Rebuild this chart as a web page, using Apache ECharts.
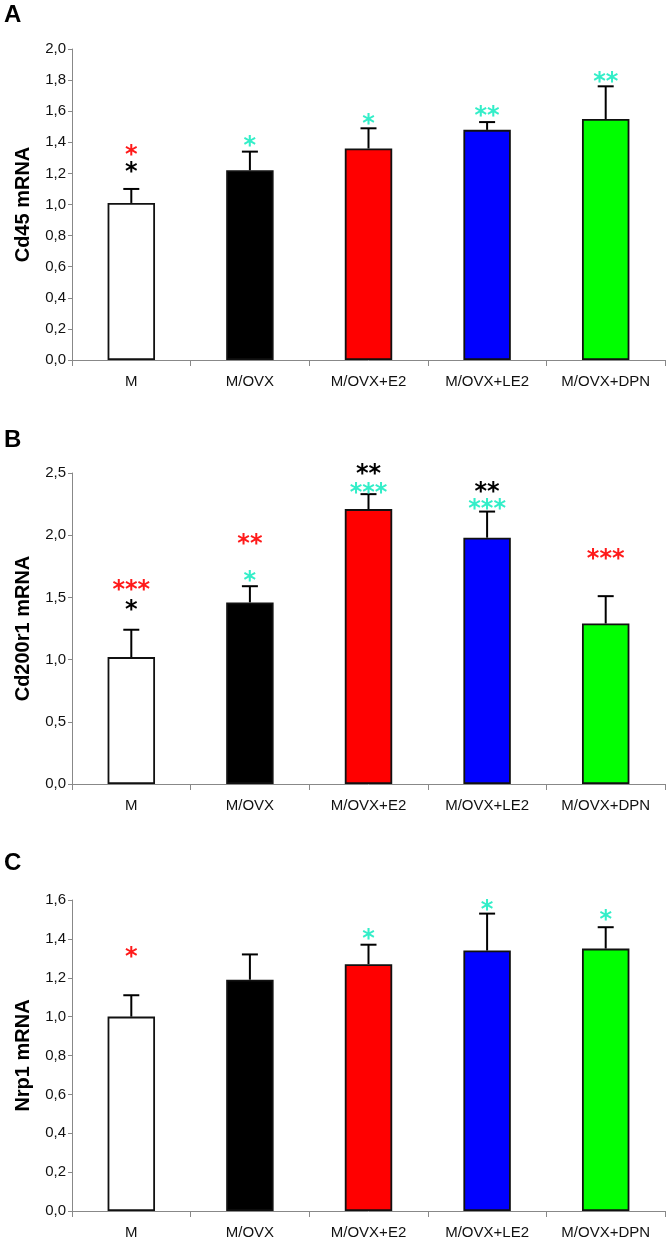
<!DOCTYPE html>
<html>
<head>
<meta charset="utf-8">
<script src="https://cdn.jsdelivr.net/npm/echarts@6/dist/echarts.min.js"></script>
<style>html,body{margin:0;padding:0;background:#fff;}#c{width:672px;height:1244px;}</style>
</head>
<body>
<div id="c"></div>
<script>
const categories = ['M', 'M/OVX', 'M/OVX+E2', 'M/OVX+LE2', 'M/OVX+DPN'];
const barColors = ['#ffffff', '#000000', '#ff0000', '#0000ff', '#00ff00'];

const cd45Mean = [1.01, 1.22, 1.36, 1.48, 1.55];
const cd45Err  = [0.09, 0.12, 0.13, 0.05, 0.21];
const cd200Mean = [1.02, 1.46, 2.21, 1.98, 1.29];
const cd200Err  = [0.22, 0.13, 0.12, 0.21, 0.22];
const nrp1Mean = [1.00, 1.19, 1.27, 1.34, 1.35];
const nrp1Err  = [0.11, 0.13, 0.10, 0.19, 0.11];

// significance marks: [category index, y value, text, colour key]
const starsA = [[0, 1.36, '*', 'red'], [0, 1.25, '*', 'black'], [1, 1.415, '*', 'cyan'], [2, 1.56, '*', 'cyan'], [3, 1.61, '**', 'cyan'], [4, 1.83, '**', 'cyan']];
const starsB = [[0, 1.61, '***', 'red'], [0, 1.45, '*', 'black'], [1, 1.98, '**', 'red'], [1, 1.68, '*', 'cyan'], [2, 2.54, '**', 'black'], [2, 2.39, '***', 'cyan'], [3, 2.40, '**', 'black'], [3, 2.26, '***', 'cyan'], [4, 1.86, '***', 'red']];
const starsC = [[0, 1.34, '*', 'red'], [2, 1.43, '*', 'cyan'], [3, 1.58, '*', 'cyan'], [4, 1.53, '*', 'cyan']];

const yTitles = ['Cd45 mRNA', 'Cd200r1 mRNA', 'Nrp1 mRNA'];
const yMax = [2.0, 2.5, 1.6];
const yInterval = [0.2, 0.5, 0.2];
const panelLetters = ['A', 'B', 'C'];

const starColor = {red: '#ff1a1a', black: '#000000', cyan: '#33eec8'};
const font = '"Liberation Sans", Arial, sans-serif';

const panels = [
  {mean: cd45Mean, err: cd45Err, stars: starsA},
  {mean: cd200Mean, err: cd200Err, stars: starsB},
  {mean: nrp1Mean, err: nrp1Err, stars: starsC}
];
const gridTops = [49, 473, 900];
const letterTops = [3, 428, 851];
const gridH = 311;

const grid = [], xAxis = [], yAxis = [], series = [], graphic = [];
panels.forEach((p, k) => {
  grid.push({left: 72, width: 593, top: gridTops[k], height: gridH});
  xAxis.push({
    type: 'category', gridIndex: k, data: categories,
    axisLine: {lineStyle: {color: '#888', width: 1}},
    axisTick: {show: true, length: 6, lineStyle: {color: '#888'}},
    axisLabel: {color: '#111', fontFamily: font, fontSize: 15, margin: 14}
  });
  yAxis.push({
    type: 'value', gridIndex: k, min: 0, max: yMax[k], interval: yInterval[k],
    name: yTitles[k], nameLocation: 'middle', nameGap: 39, nameRotate: 90,
    nameTextStyle: {fontFamily: font, fontWeight: 'bold', fontSize: 20, color: '#000'},
    axisLine: {show: true, lineStyle: {color: '#888', width: 1}},
    axisTick: {show: true, length: 4, lineStyle: {color: '#888'}},
    splitLine: {show: false},
    axisLabel: {color: '#111', fontFamily: font, fontSize: 15, margin: 6,
      formatter: v => v.toFixed(1).replace('.', ',')}
  });
  series.push({
    type: 'bar', xAxisIndex: k, yAxisIndex: k, barWidth: '40%',
    data: p.mean.map((v, i) => ({value: v, itemStyle: {color: barColors[i]}})),
    itemStyle: {borderColor: '#111', borderWidth: 1.8},
    z: 2
  });
  series.push({
    type: 'custom', xAxisIndex: k, yAxisIndex: k, z: 3,
    data: p.mean.map((v, i) => [i, v + p.err[i], v]),
    renderItem: (params, api) => {
      const top = api.coord([api.value(0), api.value(1)]);
      const bot = api.coord([api.value(0), api.value(2)]);
      const st = {stroke: '#000', lineWidth: 2};
      return {type: 'group', children: [
        {type: 'line', shape: {x1: top[0], y1: top[1], x2: bot[0], y2: bot[1]}, style: st},
        {type: 'line', shape: {x1: top[0] - 8, y1: top[1], x2: top[0] + 8, y2: top[1]}, style: st}
      ]};
    }
  });
  series.push({
    type: 'custom', xAxisIndex: k, yAxisIndex: k, z: 4, clip: false,
    data: p.stars.map(s => [s[0], s[1]]),
    renderItem: (params, api) => {
      const s = p.stars[params.dataIndex];
      const pt = api.coord([api.value(0), api.value(1)]);
      return {type: 'text', x: pt[0], y: pt[1] + 7,
        style: {text: s[2], fill: starColor[s[3]], font: 'bold 24px "DejaVu Sans", sans-serif',
          textAlign: 'center', textVerticalAlign: 'middle'}};
    }
  });
  graphic.push({type: 'text', left: 4, top: letterTops[k],
    style: {text: panelLetters[k], font: 'bold 24px ' + font, fill: '#000'}});
});

const chart = echarts.init(document.getElementById('c'), null, {renderer: 'canvas'});
chart.setOption({animation: false, backgroundColor: '#fff', grid, xAxis, yAxis, series, graphic});
</script>
</body>
</html>
